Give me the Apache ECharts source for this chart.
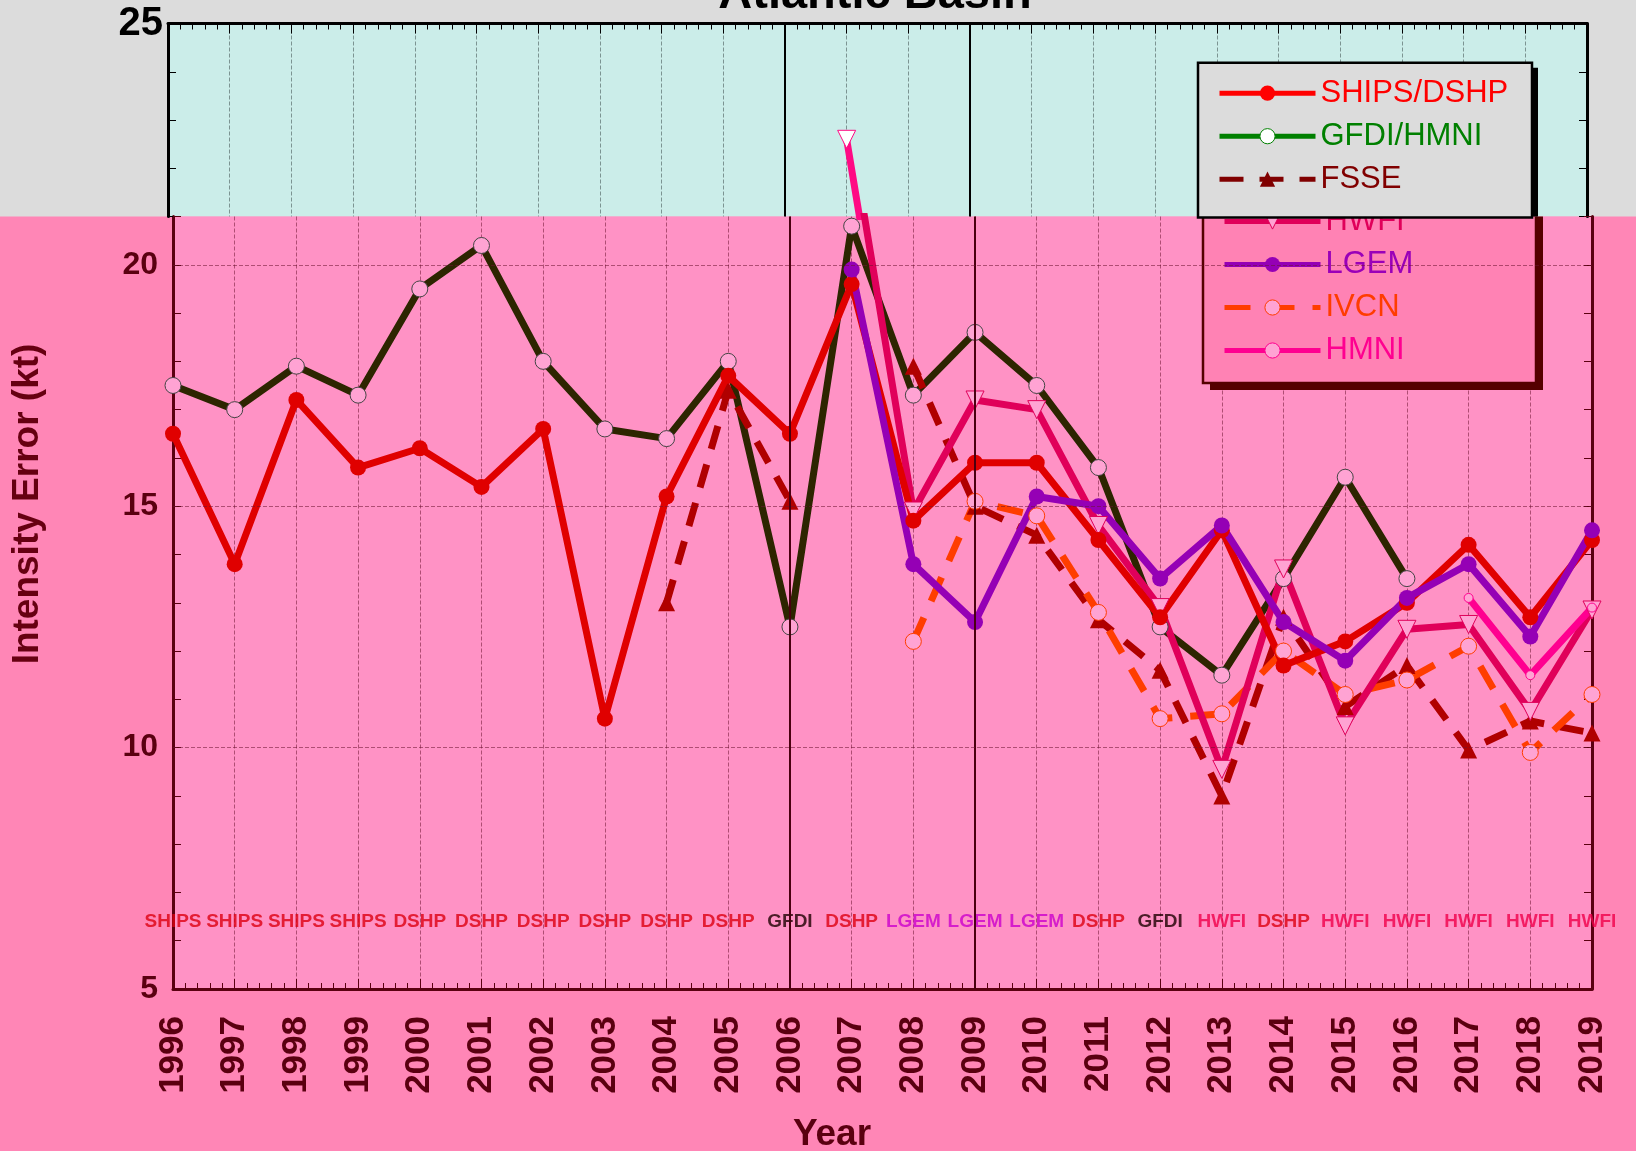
<!DOCTYPE html>
<html>
<head>
<meta charset="utf-8">
<title>Atlantic Basin</title>
<script src="https://cdn.jsdelivr.net/npm/echarts@6/dist/echarts.min.js"></script>
<style>
  html, body { margin: 0; padding: 0; background: #dcdcdc; }
  #chart { width: 1636px; height: 1151px; }
</style>
</head>
<body>
<div id="chart"></div>
<script>
// values
const years = [1996, 1997, 1998, 1999, 2000, 2001, 2002, 2003, 2004, 2005, 2006, 2007,
  2008, 2009, 2010, 2011, 2012, 2013, 2014, 2015, 2016, 2017, 2018, 2019];
const ships = [16.5, 13.8, 17.2, 15.8, 16.2, 15.4, 16.6, 10.6, 15.2, 17.7, 16.5, 19.6,
  14.7, 15.9, 15.9, 14.3, 12.7, 14.5, 11.7, 12.2, 13.0, 14.2, 12.7, 14.3];
const gfdiHmni = [17.5, 17.0, 17.9, 17.3, 19.5, 20.4, 18.0, 16.6, 16.4, 18.0, 12.5, 20.8,
  17.3, 18.6, 17.5, 15.8, 12.5, 11.5, 13.5, 15.6, 13.5, null, null, null];
const fsse = [null, null, null, null, null, null, null, null, 13.0, 17.4, 15.1, null,
  17.9, 15.0, 14.4, 12.65, 11.6, 9.0, 12.7, 10.85, 11.7, 9.95, 10.55, 10.3];
const hwfi = [null, null, null, null, null, null, null, null, null, null, null, 22.6,
  14.9, 17.2, 17.0, 14.6, 12.9, 9.55, 13.7, 10.45, 12.45, 12.55, 10.75, 12.85];
const lgem = [null, null, null, null, null, null, null, null, null, null, null, 19.9,
  13.8, 12.6, 15.2, 15.0, 13.5, 14.6, 12.6, 11.8, 13.1, 13.8, 12.3, 14.5];
const ivcn = [null, null, null, null, null, null, null, null, null, null, null, null,
  12.2, 15.1, 14.8, 12.8, 10.6, 10.7, 12.0, 11.1, 11.4, 12.1, 9.9, 11.1];
const hmni = [null, null, null, null, null, null, null, null, null, null, null, null,
  null, null, null, null, null, null, null, null, null, 13.1, 11.5, 12.9];
// best model of each year, written along the bottom of the plot
const bestModel = ['SHIPS', 'SHIPS', 'SHIPS', 'SHIPS', 'DSHP', 'DSHP', 'DSHP', 'DSHP',
  'DSHP', 'DSHP', 'GFDI', 'DSHP', 'LGEM', 'LGEM', 'LGEM', 'DSHP', 'GFDI', 'HWFI',
  'DSHP', 'HWFI', 'HWFI', 'HWFI', 'HWFI', 'HWFI'];
const bestModelY = 6.4;
const markYears = [2006, 2009];
const gridValues = [10, 15, 20];

const FONT = "'Liberation Sans', Arial, sans-serif";
const SPLIT = 216.5;   // where the cyan top band meets the pink part

const palettes = {
  top: { ships: '#ff0000', gfdi: '#008000', fsse: '#800000', hwfi: '#ff0a84',
    lgem: '#9900cc', ivcn: '#ff4000', hmni: '#ff0099', open: '#ffffff', gfdiEdge: '#008000' },
  low: { ships: '#e00000', gfdi: '#2d2500', fsse: '#b00000', hwfi: '#e0005a',
    lgem: '#9500b5', ivcn: '#ff3d00', hmni: '#ff0090', open: '#ffa3d3', gfdiEdge: '#444444' }
};
const labelColors = { SHIPS: '#dd0010', DSHP: '#dd0010', GFDI: '#1e0000', LGEM: '#cc00cc', HWFI: '#f0004a' };

const models = [
  { key: 'gfdi', name: 'GFDI/HMNI', values: gfdiHmni, symbol: 'circle', size: 16, open: true },
  { key: 'fsse', name: 'FSSE', values: fsse, symbol: 'triangle', size: 17, dash: [24, 16] },
  { key: 'ivcn', name: 'IVCN', values: ivcn, symbol: 'circle', size: 16, open: true, dash: [26, 18] },
  { key: 'hwfi', name: 'HWFI', values: hwfi, symbol: 'triangle', rotate: 180, size: 18, open: true },
  { key: 'ships', name: 'SHIPS/DSHP', values: ships, symbol: 'circle', size: 16 },
  { key: 'lgem', name: 'LGEM', values: lgem, symbol: 'circle', size: 16 },
  { key: 'hmni', name: 'HMNI', values: hmni, symbol: 'circle', size: 9, open: true }
];

const styleFor = (m, pal) => {
  const c = pal[m.key];
  return {
    line: { color: c, width: 7, type: m.dash || 'solid' },
    item: m.open
      ? { color: pal.open, borderColor: m.key === 'gfdi' ? pal.gfdiEdge : c, borderWidth: 1 }
      : { color: c, borderWidth: 0 }
  };
};

const makeSeries = (m, pal, xi, yi) => {
  const st = styleFor(m, pal);
  return {
    type: 'line',
    name: m.name,
    xAxisIndex: xi,
    yAxisIndex: yi,
    data: years.map((y, i) => [y, m.values[i]]),
    symbol: m.symbol,
    symbolSize: m.size,
    symbolRotate: m.rotate || 0,
    showAllSymbol: true,
    clip: true,
    lineStyle: st.line,
    itemStyle: st.item,
    emphasis: { disabled: true }
  };
};

const refLines = (xi, yi, color, withGrid) => ({
  type: 'line',
  xAxisIndex: xi,
  yAxisIndex: yi,
  data: [],
  silent: true,
  markLine: {
    silent: true,
    symbol: ['none', 'none'],
    label: { show: false },
    animation: false,
    data: markYears.map(y => ({ xAxis: y, lineStyle: { color: color, width: 2, type: 'solid' } }))
      .concat(withGrid ? gridValues.map(v => ({
        yAxis: v, lineStyle: { color: 'rgba(110,20,50,0.55)', width: 1, type: 'dashed' }
      })) : [])
  }
});

const legendItem = (name, pal, textColor) => {
  const m = models.find(d => d.name === name);
  const st = styleFor(m, pal);
  return {
    name: name,
    itemStyle: st.item,
    lineStyle: { color: st.line.color, width: 5, type: m.dash || 'solid' },
    textStyle: { color: textColor }
  };
};

const xCommon = (gi, color, pos) => ({
  type: 'value', gridIndex: gi, position: pos,
  min: 1996, max: 2019, interval: 1,
  axisLine: { lineStyle: { color: color, width: 3 } },
  axisTick: { inside: true, length: 10, lineStyle: { color: color, width: 1 } },
  minorTick: { show: true, splitNumber: 5, length: 6, lineStyle: { color: color, width: 1 } },
  splitLine: { show: true, lineStyle: { type: 'dashed', width: 1,
    color: gi === 0 ? 'rgba(90,110,108,0.7)' : 'rgba(110,20,50,0.55)' } }
});

const yCommon = (gi, color, pos, min, max) => ({
  type: 'value', gridIndex: gi, position: pos,
  min: min, max: max, interval: 1,
  axisLine: { show: true, lineStyle: { color: color, width: 3 } },
  axisTick: { show: true, inside: true, length: 8, lineStyle: { color: color, width: 1 } },
  splitLine: { show: false }
});

const series = [];
models.forEach(m => series.push(makeSeries(m, palettes.top, 0, 0)));
series.push(refLines(0, 0, '#000000', false));
models.forEach(m => series.push(makeSeries(m, palettes.low, 1, 2)));
series.push(refLines(1, 2, '#4a0010', true));
series.push({
  type: 'scatter',
  xAxisIndex: 1,
  yAxisIndex: 2,
  symbolSize: 2,
  itemStyle: { color: 'rgba(0,0,0,0)' },
  silent: true,
  z: 3,
  data: years.map((y, i) => ({
    name: bestModel[i],
    value: [y, bestModelY],
    label: { color: labelColors[bestModel[i]] }
  })),
  label: { show: true, position: 'inside', formatter: '{b}', fontSize: 19,
    fontWeight: 'bold', fontFamily: FONT }
});

// legend boxes: a flat offset shadow under a framed panel
const boxA = { x: 1198, y: 62.7, w: 334 };
const boxB = { x: 1203, bottom: 383, w: 333 };

const chart = echarts.init(document.getElementById('chart'), null, { renderer: 'canvas' });
chart.setOption({
  animation: false,
  backgroundColor: '#dcdcdc',
  textStyle: { fontFamily: FONT },
  grid: [
    { left: 168, top: 23.5, width: 1419, height: SPLIT - 23.5, show: true,
      backgroundColor: '#cbede9', borderWidth: 0 },
    { left: 173, top: SPLIT, width: 1419, height: 989 - SPLIT, show: true,
      backgroundColor: '#ff92c5', borderWidth: 0 }
  ],
  xAxis: [
    Object.assign(xCommon(0, '#000000', 'top'), { axisLabel: { show: false } }),
    Object.assign(xCommon(1, '#5a0010', 'bottom'), {
      axisLabel: { rotate: 90, fontSize: 35, fontWeight: 'bold', color: '#5a0010', margin: 27,
        padding: [8, 0, 0, 0], formatter: v => String(v) }
    })
  ],
  yAxis: [
    Object.assign(yCommon(0, '#000000', 'left', 21, 25), {
      axisLabel: { formatter: v => (v === 25 ? '25' : ''), fontSize: 40, fontWeight: 'bold',
        color: '#000000', margin: 5 }
    }),
    Object.assign(yCommon(0, '#000000', 'right', 21, 25), { axisLabel: { show: false } }),
    Object.assign(yCommon(1, '#5a0010', 'left', 5, 21), {
      axisLabel: { formatter: v => (v % 5 === 0 && v < 21 ? String(v) : ''), fontSize: 32,
        fontWeight: 'bold', color: '#5a0010', margin: 15 }
    }),
    Object.assign(yCommon(1, '#5a0010', 'right', 5, 21), { axisLabel: { show: false } })
  ],
  legend: [
    {
      orient: 'vertical', left: boxA.x, top: boxA.y, z: 8, selectedMode: false,
      padding: [15, 27, 22, 19], itemWidth: 96, itemHeight: 19, itemGap: 12,
      backgroundColor: 'transparent', borderWidth: 0,
      textStyle: { fontSize: 31, fontFamily: FONT },
      data: [
        legendItem('SHIPS/DSHP', palettes.top, '#ff0000'),
        legendItem('GFDI/HMNI', palettes.top, '#008000'),
        legendItem('FSSE', palettes.top, '#800000')
      ]
    },
    {
      orient: 'vertical', left: boxB.x, top: 201, z: 5, selectedMode: false,
      padding: [5, 125, 17, 19], itemWidth: 96, itemHeight: 19, itemGap: 12,
      backgroundColor: 'transparent', borderWidth: 0,
      textStyle: { fontSize: 31, fontFamily: FONT },
      data: [
        legendItem('HWFI', palettes.low, '#e0005a'),
        legendItem('LGEM', palettes.low, '#9a00b8'),
        legendItem('IVCN', palettes.low, '#ff3c00'),
        legendItem('HMNI', palettes.low, '#ff0090')
      ]
    }
  ],
  graphic: [
    { type: 'rect', z: -10, silent: true,
      shape: { x: 0, y: SPLIT, width: 1636, height: 1151 - SPLIT },
      style: { fill: '#ff86b6' } },
    // lower legend panel
    { type: 'rect', z: 3, silent: true,
      shape: { x: boxB.x + 7, y: SPLIT, width: boxB.w, height: boxB.bottom + 7 - SPLIT },
      style: { fill: '#550000' } },
    { type: 'rect', z: 4, silent: true,
      shape: { x: boxB.x, y: SPLIT, width: boxB.w, height: boxB.bottom - SPLIT },
      style: { fill: '#ff82b4' } },
    { type: 'polyline', z: 4, silent: true,
      shape: { points: [[boxB.x, SPLIT], [boxB.x, boxB.bottom], [boxB.x + boxB.w, boxB.bottom],
        [boxB.x + boxB.w, SPLIT]] },
      style: { stroke: '#550000', lineWidth: 2.5, fill: null } },
    // upper legend panel
    { type: 'rect', z: 6, silent: true,
      shape: { x: boxA.x + 6, y: boxA.y + 5, width: boxA.w, height: SPLIT - boxA.y - 5 },
      style: { fill: '#000000' } },
    { type: 'rect', z: 7, silent: true,
      shape: { x: boxA.x, y: boxA.y, width: boxA.w, height: SPLIT - boxA.y + 1 },
      style: { fill: '#dcdcdc', stroke: '#000000', lineWidth: 2.5 } },
    { type: 'text', x: 875, y: -5, z: 10, silent: true,
      style: { text: 'Atlantic Basin', fontSize: 47, fontWeight: 'bold', fontFamily: FONT,
        fill: '#000000', align: 'center', verticalAlign: 'middle' } },
    { type: 'text', x: 28, y: 504, rotation: Math.PI / 2, z: 10, silent: true,
      style: { text: 'Intensity Error (kt)', fontSize: 37, fontWeight: 'bold', fontFamily: FONT,
        fill: '#660011', align: 'center', verticalAlign: 'middle' } },
    { type: 'text', x: 832, y: 1135, z: 10, silent: true,
      style: { text: 'Year', fontSize: 37, fontWeight: 'bold', fontFamily: FONT,
        fill: '#5a0010', align: 'center', verticalAlign: 'middle' } }
  ],
  series: series
});
</script>
</body>
</html>
